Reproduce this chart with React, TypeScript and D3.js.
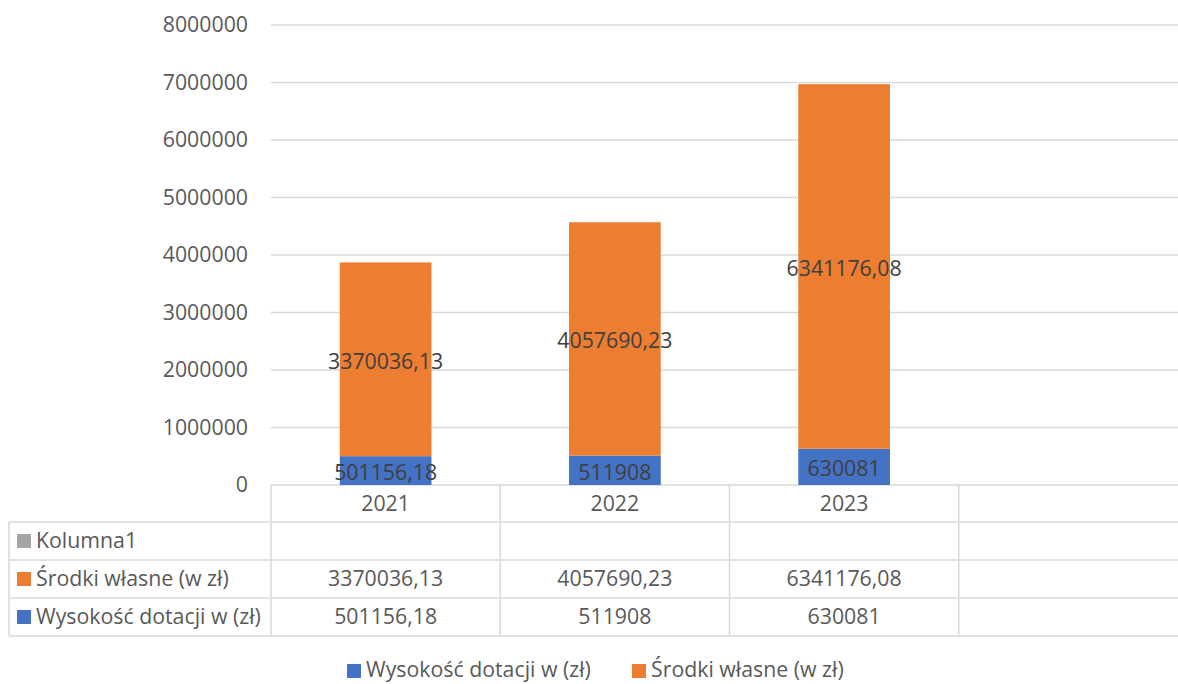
import { useEffect, useRef } from "react";
import * as d3 from "d3";

const years = ["2021", "2022", "2023", ""];
const dotacje = [501156.18, 511908, 630081];
const srodki = [3370036.13, 4057690.23, 6341176.08];
const dotacjeLabels = ["501156,18", "511908", "630081"];
const srodkiLabels = ["3370036,13", "4057690,23", "6341176,08"];
const yTicks = [0, 1000000, 2000000, 3000000, 4000000, 5000000, 6000000, 7000000, 8000000];

const BLUE = "#4472C4";
const ORANGE = "#ED7D31";
const GRAY = "#A5A5A5";
const TEXT = "#595959";
const GRID = "#D9D9D9";
const FONT = "'Open Sans', 'Noto Sans', sans-serif";
const FS = "21.3px";

export default function App() {
  const svgRef = useRef<SVGSVGElement>(null);

  useEffect(() => {
    document.body.style.margin = "0";
    const svg = d3.select(svgRef.current);
    svg.selectAll("*").remove();

    const left = 271;
    const right = 1188;
    const top = 25;
    const bottom = 485;

    const x = d3.scaleBand().domain(years).range([left, right]).padding(0);
    const y = d3.scaleLinear().domain([0, 8000000]).range([bottom, top]);
    const barW = x.bandwidth() * 0.4;

    // gridlines
    svg
      .append("g")
      .selectAll("line")
      .data(yTicks)
      .enter()
      .append("line")
      .attr("x1", left)
      .attr("x2", right)
      .attr("y1", (d) => y(d))
      .attr("y2", (d) => y(d))
      .attr("stroke", GRID)
      .attr("stroke-width", 1.5);

    // y labels
    svg
      .append("g")
      .selectAll("text")
      .data(yTicks)
      .enter()
      .append("text")
      .attr("x", 248)
      .attr("y", (d) => y(d))
      .attr("dy", "0.35em")
      .attr("text-anchor", "end")
      .attr("fill", TEXT)
      .style("font-family", FONT)
      .style("font-size", FS)
      .text((d) => String(d));

    const rows = years.slice(0, 3).map((yr, i) => ({
      yr,
      d: dotacje[i],
      s: srodki[i],
      dl: dotacjeLabels[i],
      sl: srodkiLabels[i],
    }));

    const bars = svg.append("g");
    bars
      .selectAll(".blue")
      .data(rows)
      .enter()
      .append("rect")
      .attr("x", (r) => (x(r.yr) || 0) + x.bandwidth() / 2 - barW / 2)
      .attr("y", (r) => y(r.d))
      .attr("width", barW)
      .attr("height", (r) => bottom - y(r.d))
      .attr("fill", BLUE);
    bars
      .selectAll(".orange")
      .data(rows)
      .enter()
      .append("rect")
      .attr("x", (r) => (x(r.yr) || 0) + x.bandwidth() / 2 - barW / 2)
      .attr("y", (r) => y(r.d + r.s))
      .attr("width", barW)
      .attr("height", (r) => y(r.d) - y(r.d + r.s))
      .attr("fill", ORANGE);

    // data labels
    const lab = svg.append("g").style("font-family", FONT).style("font-size", FS).attr("fill", "#404040");
    lab
      .selectAll(".dl")
      .data(rows)
      .enter()
      .append("text")
      .attr("x", (r) => (x(r.yr) || 0) + x.bandwidth() / 2)
      .attr("y", (r) => (y(0) + y(r.d)) / 2 + 2)
      .attr("dy", "0.35em")
      .attr("text-anchor", "middle")
      .text((r) => r.dl);
    lab
      .selectAll(".sl")
      .data(rows)
      .enter()
      .append("text")
      .attr("x", (r) => (x(r.yr) || 0) + x.bandwidth() / 2)
      .attr("y", (r) => (y(r.d) + y(r.d + r.s)) / 2 + 2)
      .attr("dy", "0.35em")
      .attr("text-anchor", "middle")
      .text((r) => r.sl);

    // data table
    const tbl = svg.append("g");
    const rowLines = [522, 560, 598, 636];
    const tableLeft = 9;
    tbl
      .selectAll(".hl")
      .data(rowLines)
      .enter()
      .append("line")
      .attr("x1", tableLeft)
      .attr("x2", right)
      .attr("y1", (d) => d)
      .attr("y2", (d) => d)
      .attr("stroke", GRID)
      .attr("stroke-width", 1.5);
    tbl
      .selectAll(".vl")
      .data(years)
      .enter()
      .append("line")
      .attr("x1", (d) => x(d) || 0)
      .attr("x2", (d) => x(d) || 0)
      .attr("y1", bottom)
      .attr("y2", 636)
      .attr("stroke", GRID)
      .attr("stroke-width", 1.5);
    tbl
      .append("line")
      .attr("x1", tableLeft)
      .attr("x2", tableLeft)
      .attr("y1", 522)
      .attr("y2", 636)
      .attr("stroke", GRID)
      .attr("stroke-width", 1.5);

    const cellText = (yy: number, vals: string[]) =>
      tbl
        .append("g")
        .selectAll("text")
        .data(vals)
        .enter()
        .append("text")
        .attr("x", (_, i) => (x(years[i]) || 0) + x.bandwidth() / 2)
        .attr("y", yy)
        .attr("dy", "0.35em")
        .attr("text-anchor", "middle")
        .attr("fill", TEXT)
        .style("font-family", FONT)
        .style("font-size", FS)
        .text((d) => d);

    cellText(504, years.slice(0, 3));
    cellText(579, srodkiLabels);
    cellText(617, dotacjeLabels);

    const seriesRows = [
      { name: "Kolumna1", color: GRAY, yy: 541 },
      { name: "Środki własne (w zł)", color: ORANGE, yy: 579 },
      { name: "Wysokość dotacji w (zł)", color: BLUE, yy: 617 },
    ];
    const sr = tbl.selectAll(".sr").data(seriesRows).enter().append("g");
    sr.append("rect")
      .attr("x", 17)
      .attr("y", (d) => d.yy - 7)
      .attr("width", 14)
      .attr("height", 14)
      .attr("fill", (d) => d.color);
    sr.append("text")
      .attr("x", 36)
      .attr("y", (d) => d.yy)
      .attr("dy", "0.35em")
      .attr("fill", TEXT)
      .style("font-family", FONT)
      .style("font-size", FS)
      .text((d) => d.name);

    // legend
    const legend = [
      { name: "Wysokość dotacji w (zł)", color: BLUE, x: 347 },
      { name: "Środki własne (w zł)", color: ORANGE, x: 632 },
    ];
    const lg = svg.selectAll(".lg").data(legend).enter().append("g");
    lg.append("rect")
      .attr("x", (d) => d.x)
      .attr("y", 664)
      .attr("width", 14)
      .attr("height", 14)
      .attr("fill", (d) => d.color);
    lg.append("text")
      .attr("x", (d) => d.x + 19)
      .attr("y", 670)
      .attr("dy", "0.35em")
      .attr("fill", TEXT)
      .style("font-family", FONT)
      .style("font-size", FS)
      .text((d) => d.name);
  }, []);

  return <svg ref={svgRef} width={1178} height={684} style={{ display: "block", background: "#fff" }} />;
}
